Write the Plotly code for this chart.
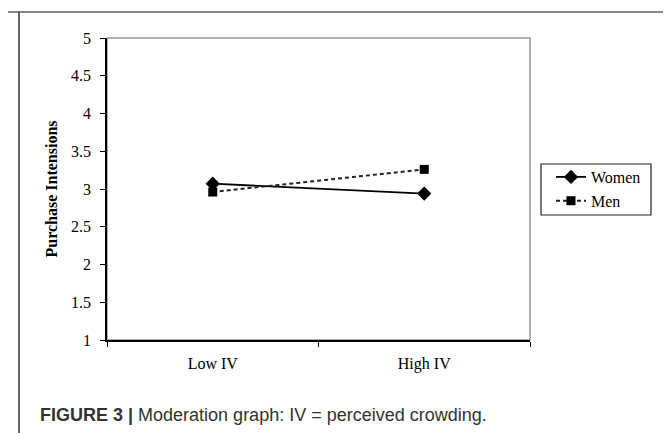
import plotly.graph_objects as go

categories = ["Low IV", "High IV"]
women = [3.07, 2.94]
men = [2.96, 3.26]
y_ticks = [1, 1.5, 2, 2.5, 3, 3.5, 4, 4.5, 5]
y_tick_labels = ["1", "1.5", "2", "2.5", "3", "3.5", "4", "4.5", "5"]

serif = "Liberation Serif, Times New Roman, serif"

fig = go.Figure()
fig.add_trace(go.Scatter(
    x=categories, y=women, name="Women", mode="lines+markers",
    line=dict(color="black", width=1.8),
    marker=dict(symbol="diamond", size=11, color="black"),
))
fig.add_trace(go.Scatter(
    x=categories, y=men, name="Men", mode="lines+markers",
    line=dict(color="#222222", width=2, dash="4px,3px"),
    marker=dict(symbol="square", size=9, color="black"),
))

fig.update_layout(
    width=671, height=433,
    margin=dict(l=99, r=149, t=30, b=101),
    paper_bgcolor="white", plot_bgcolor="white",
    font=dict(family=serif, size=16, color="black"),
    showlegend=True,
    legend=dict(
        x=(543 - 99) / 423, y=(332 - 152) / 302, xanchor="left", yanchor="top",
        borderwidth=0, bgcolor="rgba(0,0,0,0)",
        font=dict(family=serif, size=16, color="black"),
    ),
    xaxis=dict(
        type="category", range=[-0.5, 1.5],
        showgrid=False, zeroline=False,
        showline=True, linecolor="black", linewidth=1.5,
        ticks="outside", ticklen=5, tickcolor="black", tickson="boundaries",
        ticklabelstandoff=8,
        tickfont=dict(family=serif, size=16, color="black"),
    ),
    yaxis=dict(
        range=[1, 5], tickvals=y_ticks, ticktext=y_tick_labels,
        showgrid=False, zeroline=False,
        showline=True, linecolor="black", linewidth=1.5,
        ticks="outside", ticklen=5, tickcolor="black",
        ticklabelstandoff=6,
        tickfont=dict(family=serif, size=16, color="black"),
        title=dict(text="<b>Purchase Intensions</b>",
                   font=dict(family=serif, size=16, color="black"),
                   standoff=9),
    ),
    shapes=[
        dict(type="rect", xref="paper", yref="paper", x0=0, x1=1, y0=0, y1=1,
             line=dict(color="#999999", width=1.5), layer="below"),
        dict(type="rect", xref="paper", yref="paper",
             x0=(533 - 99) / 423, x1=(643 - 99) / 423,
             y0=(332 - 207) / 302, y1=(332 - 156) / 302,
             line=dict(color="#222222", width=1.2)),
        dict(type="line", xref="paper", yref="paper",
             x0=-99/423, x1=1 + 149/423, y0=1 + 26/302, y1=1 + 26/302,
             line=dict(color="#888888", width=2)),
        dict(type="line", xref="paper", yref="paper",
             x0=-88/423, x1=-88/423, y0=1 + 26/302, y1=-101/302,
             line=dict(color="#333333", width=1.5)),
    ],
    annotations=[
        dict(text="<b>FIGURE 3 |</b> Moderation graph: IV = perceived crowding.",
             xref="paper", yref="paper", x=-69/423, y=-(407 - 332)/302,
             xanchor="left", yanchor="middle", showarrow=False,
             font=dict(family="Liberation Sans, Arial, sans-serif", size=18,
                       color="#333333")),
    ],
)

fig.write_html("out.html")
